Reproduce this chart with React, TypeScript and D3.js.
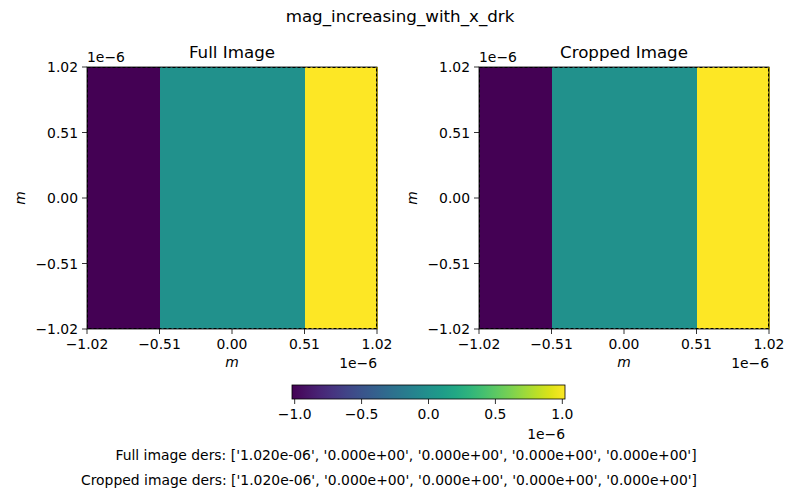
import React from 'react';
import * as d3 from 'd3';

const title = 'mag_increasing_with_x_drk';
const panelTitles = ['Full Image', 'Cropped Image'];
// column edges (in units of 1e-6 m) and the value of each column
const columnEdges = [-1.02, -0.51, 0.51, 1.02];
const columnValues = [-1.02, 0, 1.02];
const axisTicks = [-1.02, -0.51, 0.0, 0.51, 1.02];
const colorTicks = [-1.0, -0.5, 0.0, 0.5, 1.0];
const dersFull = ['1.020e-06', '0.000e+00', '0.000e+00', '0.000e+00', '0.000e+00'];
const dersCropped = ['1.020e-06', '0.000e+00', '0.000e+00', '0.000e+00', '0.000e+00'];

const font = 'DejaVu Sans, sans-serif';
const fs = 13.9;
const fmt = (v: number, d: number) => v.toFixed(d).replace('-', '\u2212');

const color = d3.scaleSequential(d3.interpolateViridis).domain([-1.02, 1.02]);

function Panel({x0, label}: {x0: number; label: string}) {
  const w = 290, h = 262, top = 67;
  const x = d3.scaleLinear().domain([-1.02, 1.02]).range([x0, x0 + w]);
  const y = d3.scaleLinear().domain([-1.02, 1.02]).range([top + h, top]);
  return (
    <g>
      {columnValues.map((v, i) => (
        <rect key={i} x={x(columnEdges[i])} y={top}
          width={x(columnEdges[i + 1]) - x(columnEdges[i]) + 0.5} height={h}
          fill={color(v)} shapeRendering="crispEdges" />
      ))}
      <rect x={x0 + 0.5} y={top + 0.5} width={w - 1} height={h - 1} fill="none"
        stroke="#000" strokeDasharray="3,2" strokeWidth={1} />
      <rect x={x0} y={top} width={w} height={h} fill="none" stroke="#000" strokeWidth={0.8} />
      {axisTicks.map(t => (
        <g key={'x' + t}>
          <line x1={x(t)} x2={x(t)} y1={top + h} y2={top + h + 5} stroke="#000" strokeWidth={0.8} />
          <text x={x(t)} y={top + h + 20} textAnchor="middle" fontSize={fs}>{fmt(t, 2)}</text>
        </g>
      ))}
      {axisTicks.map(t => (
        <g key={'y' + t}>
          <line x1={x0 - 5} x2={x0} y1={y(t)} y2={y(t)} stroke="#000" strokeWidth={0.8} />
          <text x={x0 - 9} y={y(t) + 5} textAnchor="end" fontSize={fs}>{fmt(t, 2)}</text>
        </g>
      ))}
      <text x={x0} y={top - 5} fontSize={fs}>1e{'\u2212'}6</text>
      <text x={x0 + w} y={top + h + 39} textAnchor="end" fontSize={fs}>1e{'\u2212'}6</text>
      <text x={x0 + w / 2} y={top + h + 38} textAnchor="middle" fontSize={fs} fontStyle="italic">m</text>
      <text transform={`translate(${x0 - 62},${top + h / 2}) rotate(-90)`} textAnchor="middle"
        fontSize={fs} fontStyle="italic">m</text>
      <text x={x0 + w / 2} y={top - 9} textAnchor="middle" fontSize={16.7}>{label}</text>
    </g>
  );
}

export default function App() {
  const cbX = 292, cbW = 273, cbY = 385, cbH = 14;
  const cx = d3.scaleLinear().domain([-1.02, 1.02]).range([cbX, cbX + cbW]);
  const stops = d3.range(0, 1.0001, 0.05);
  return (
    <svg width={800} height={500} style={{position: 'absolute', left: 0, top: 0}} fontFamily={font}>
      <rect width={800} height={500} fill="#fff" />
      <defs>
        <linearGradient id="vir" x1="0" x2="1" y1="0" y2="0">
          {stops.map(s => <stop key={s} offset={s} stopColor={d3.interpolateViridis(s)} />)}
        </linearGradient>
      </defs>
      <text x={400} y={22} textAnchor="middle" fontSize={16.7}>{title}</text>
      <Panel x0={87} label={panelTitles[0]} />
      <Panel x0={479} label={panelTitles[1]} />
      <rect x={cbX} y={cbY} width={cbW} height={cbH} fill="url(#vir)" stroke="#000" strokeWidth={0.8} />
      {colorTicks.map(t => (
        <g key={t}>
          <line x1={cx(t)} x2={cx(t)} y1={cbY + cbH} y2={cbY + cbH + 5} stroke="#000" strokeWidth={0.8} />
          <text x={cx(t)} y={cbY + cbH + 20} textAnchor="middle" fontSize={fs}>{fmt(t, 1)}</text>
        </g>
      ))}
      <text x={cbX + cbW} y={cbY + cbH + 40} textAnchor="end" fontSize={fs}>1e{'\u2212'}6</text>
      <text x={406} y={460} textAnchor="middle" fontSize={fs}>
        Full image ders: [{dersFull.map(d => `'${d}'`).join(', ')}]
      </text>
      <text x={389} y={485} textAnchor="middle" fontSize={fs}>
        Cropped image ders: [{dersCropped.map(d => `'${d}'`).join(', ')}]
      </text>
    </svg>
  );
}
